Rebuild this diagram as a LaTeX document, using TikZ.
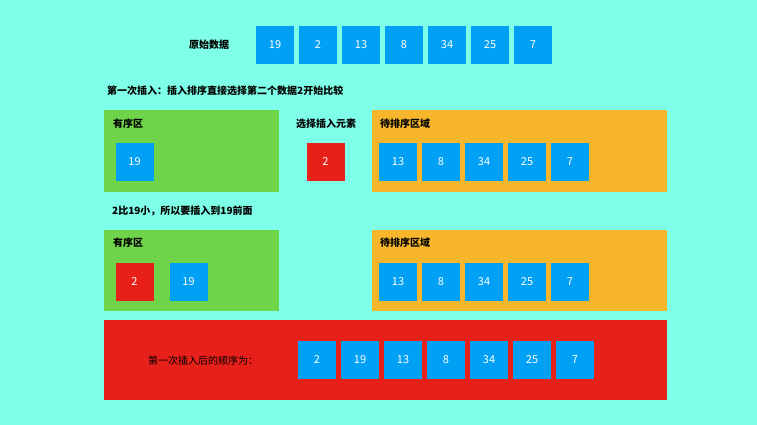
\documentclass[tikz,border=0pt]{standalone}
\usepackage{fontspec}
\setmainfont{Noto Sans CJK SC}
\begin{document}
\begin{tikzpicture}[x=1pt,y=-1pt,
  cell/.style={fill=cellblue,text=white,minimum width=38pt,minimum height=38pt,inner sep=0pt,font=\fontsize{11}{13}\selectfont},
  rcell/.style={cell,fill=cellred},
  lbl/.style={anchor=west,inner sep=0pt,font=\fontsize{10}{12}\selectfont\bfseries},
  panel/.style={inner sep=0pt,anchor=north west}]
\definecolor{bg}{RGB}{127,255,232}
\definecolor{cellblue}{RGB}{0,160,245}
\definecolor{cellred}{RGB}{232,32,26}
\definecolor{pgreen}{RGB}{112,212,75}
\definecolor{porange}{RGB}{247,182,44}
\fill[bg] (0,0) rectangle (757,425);
\useasboundingbox (0,0) rectangle (757,425);
% top row
\node[lbl] (t0) at (189,45) {原始数据};
\foreach \v [count=\i] in {19,2,13,8,34,25,7}
  \node[cell] (a\i) at (275+43*\i-43,45) {\v};
\node[lbl] (t1) at (107,91) {第一次插入：插入排序直接选择第二个数据2开始比较};
% panels row 1
\fill[pgreen] (104,110) rectangle (279,192);
\fill[porange] (372,110) rectangle (667,192);
\node[lbl] (g1) at (113,124) {有序区};
\node[lbl] (o1) at (380,124) {待排序区域};
\node[lbl,anchor=center] (s1) at (326,124) {选择插入元素};
\node[cell] (b19) at (134.5,162) {19};
\node[rcell] (b2) at (325.5,162) {2};
\foreach \v [count=\i] in {13,8,34,25,7}
  \node[cell] (c\i) at (398+43*\i-43,162) {\v};
\node[lbl] (t2) at (112,211) {2比19小，所以要插入到19前面};
% panels row 2
\fill[pgreen] (104,230) rectangle (279,311);
\fill[porange] (372,230) rectangle (667,311);
\node[lbl] (g2) at (113,243) {有序区};
\node[lbl] (o2) at (380,243) {待排序区域};
\node[rcell] (d2) at (134.5,282) {2};
\node[cell] (d19) at (188.5,282) {19};
\foreach \v [count=\i] in {13,8,34,25,7}
  \node[cell] (e\i) at (398+43*\i-43,282) {\v};
% result
\fill[cellred] (104,320) rectangle (667,400);
\node[lbl,font=\fontsize{10}{12}\selectfont] (t3) at (148,361) {第一次插入后的顺序为：};
\foreach \v [count=\i] in {2,19,13,8,34,25,7}
  \node[cell] (f\i) at (317+43*\i-43,360) {\v};
\end{tikzpicture}
\end{document}
